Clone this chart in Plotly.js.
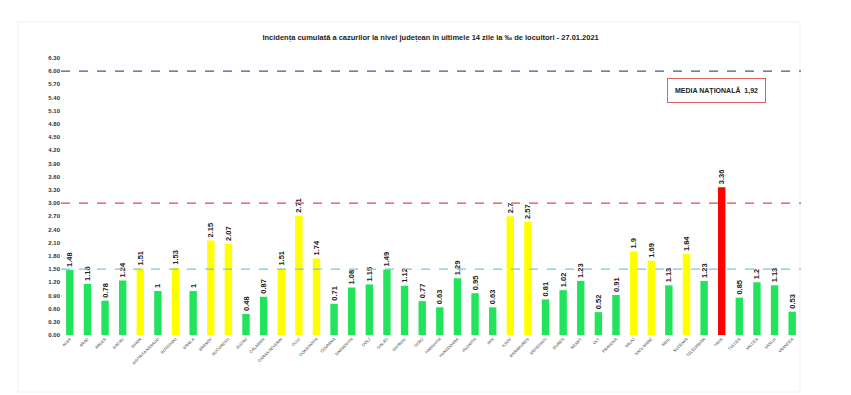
<!DOCTYPE html>
<html>
<head>
<meta charset="utf-8">
<script src="https://cdn.plot.ly/plotly-3.0.1.min.js"></script>
<style>html,body{margin:0;padding:0;background:#fff;}#chart{width:851px;height:395px;}</style>
</head>
<body>
<div id="chart"></div>
<script>
const counties = ["ALBA","ARAD","ARGES","BACAU","BIHOR","BISTRITA-NASAUD","BOTOSANI","BRAILA","BRASOV","BUCURESTI","BUZAU","CALARASI","CARAS-SEVERIN","CLUJ","CONSTANTA","COVASNA","DAMBOVITA","DOLJ","GALATI","GIURGIU","GORJ","HARGHITA","HUNEDOARA","IALOMITA","IASI","ILFOV","MARAMURES","MEHEDINTI","MURES","NEAMT","OLT","PRAHOVA","SALAJ","SATU MARE","SIBIU","SUCEAVA","TELEORMAN","TIMIS","TULCEA","VALCEA","VASLUI","VRANCEA"];
const incidence = [1.48,1.16,0.78,1.24,1.51,1,1.53,1,2.15,2.07,0.48,0.87,1.51,2.71,1.74,0.71,1.08,1.15,1.49,1.12,0.77,0.63,1.29,0.95,0.63,2.7,2.57,0.81,1.02,1.23,0.52,0.91,1.9,1.69,1.13,1.84,1.23,3.36,0.85,1.2,1.13,0.53];
const thresholdLow = 1.5;
const thresholdHigh = 3.0;
const thresholdTop = 6.0;
const nationalMean = "1,92";
const titleText = "Incidența cumulată a cazurilor la nivel județean în ultimele 14 zile la ‰ de locuitori - 27.01.2021";

const colors = incidence.map(v => v > thresholdHigh ? "#ff0000" : (v > thresholdLow ? "#ffff00" : "#22e35c"));
const tickvals = [];
for (let i = 0; i <= 21; i++) tickvals.push(+(i * 0.3).toFixed(2));
const ticktext = tickvals.map(v => "<b>" + v.toFixed(2) + "</b>");

const trace = {
  type: "bar",
  x: counties,
  y: incidence,
  marker: {color: colors},
  text: incidence.map(v => "<b>" + String(v) + "</b>"),
  textposition: "outside",
  textangle: -90,
  constraintext: "none",
  cliponaxis: false,
  textfont: {family: "Liberation Sans, Arial, sans-serif", size: 7.5, color: "#222"},
  hoverinfo: "x+y"
};

function hline(y, color) {
  return {type: "line", xref: "paper", x0: 0, x1: 1, yref: "y", y0: y, y1: y,
          line: {color: color, width: 1.3, dash: "dash"}, layer: "above"};
}

const W = 740, L = 61, T = 58, H = 277;
const layout = {
  width: 851, height: 395,
  margin: {l: L, r: 50, t: T, b: 60},
  paper_bgcolor: "#fff", plot_bgcolor: "#fff",
  showlegend: false,
  bargap: 0.58,
  title: {text: "<b>" + titleText + "</b>", x: 0.506, xanchor: "center", y: 0.905, yanchor: "middle",
          font: {family: "Liberation Sans, Arial, sans-serif", size: 7.5, color: "#222"}},
  xaxis: {type: "category", tickangle: -45, showgrid: false, zeroline: false, showline: false, ticks: "",
          tickfont: {family: "Liberation Sans, Arial, sans-serif", size: 4, color: "#333"}, automargin: false},
  yaxis: {range: [0, 6.3], tickvals: tickvals, ticktext: ticktext, showgrid: false, zeroline: false, showline: false, ticks: "",
          tickfont: {family: "Liberation Sans, Arial, sans-serif", size: 6, color: "#333"}, automargin: false},
  shapes: [
    hline(thresholdTop, "#4a5788"),
    hline(thresholdHigh, "#e04a4a"),
    hline(thresholdLow, "#74c7e0"),
    {type: "rect", xref: "paper", yref: "paper", x0: (18 - L) / W, x1: (800 - L) / W, y0: -(392 - T - H) / H, y1: (T + H - 22) / H,
     line: {color: "#f0f0f0", width: 1}, fillcolor: "rgba(0,0,0,0)", layer: "below"}
  ],
  annotations: [{
    xref: "paper", yref: "y", x: (716 - L) / W, y: 5.55, xanchor: "center", yanchor: "middle",
    text: "<b>MEDIA NAȚIONALĂ  " + nationalMean + "</b>", showarrow: false,
    font: {family: "Liberation Sans, Arial, sans-serif", size: 7, color: "#222"},
    bordercolor: "#e06060", borderwidth: 1, borderpad: 7, bgcolor: "#fff"
  }]
};

Plotly.newPlot("chart", [trace], layout, {displayModeBar: false, staticPlot: true});
</script>
</body>
</html>
